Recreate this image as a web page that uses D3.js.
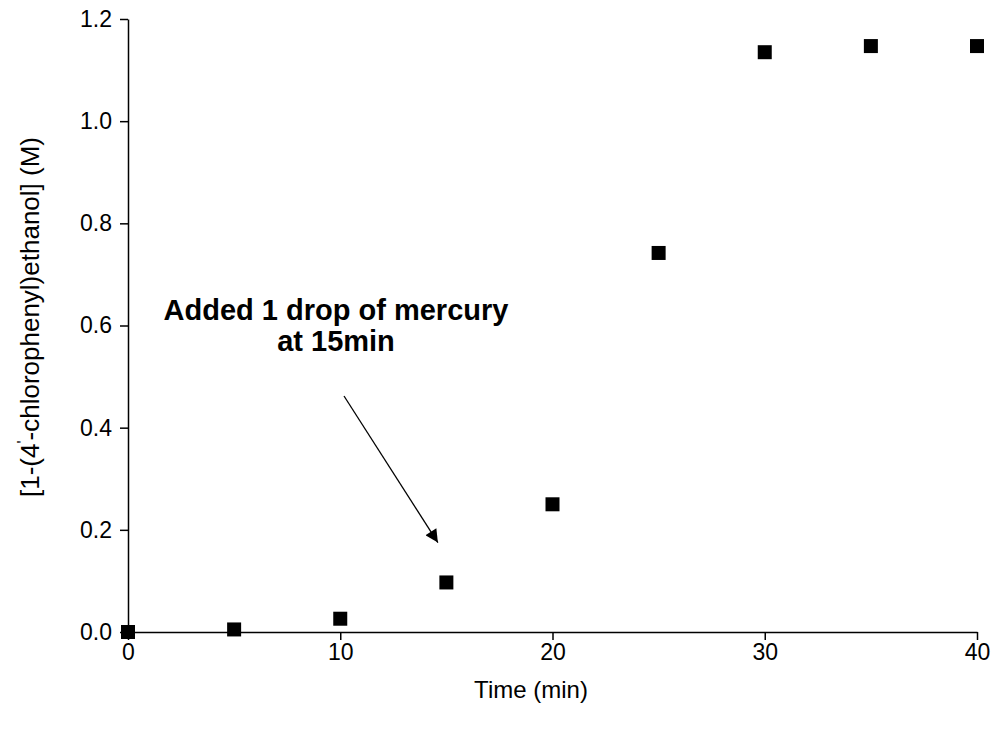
<!DOCTYPE html>
<html>
<head>
<meta charset="utf-8">
<script src="https://cdn.jsdelivr.net/npm/d3@7"></script>
<style>
  body { margin: 0; background: #fff; }
  svg { display: block; font-family: "Liberation Sans", Arial, sans-serif; }
</style>
</head>
<body>
<div id="chart"></div>
<script>
// data
var times = [0, 5, 10, 15, 20, 25, 30, 35, 40];
var conc = [0.0, 0.005, 0.026, 0.097, 0.250, 0.742, 1.135, 1.147, 1.147];
var xTicks = [0, 10, 20, 30, 40];
var yTicks = [0, 0.2, 0.4, 0.6, 0.8, 1.0, 1.2];
var noteLines = ["Added 1 drop of mercury", "at 15min"];

var width = 997,
    height = 734,
    margin = {top: 19, right: 20, bottom: 102, left: 128},
    square = 14;

var svg = d3.select("#chart").append("svg")
    .attr("width", width)
    .attr("height", height);

var x = d3.scaleLinear()
    .domain([0, 40])
    .range([margin.left, width - margin.right]);

var y = d3.scaleLinear()
    .domain([0, 1.2])
    .range([height - margin.bottom, margin.top]);

// axes
var xAxis = svg.append("g")
    .attr("transform", "translate(0," + y(0) + ")")
    .call(d3.axisBottom(x).tickValues(xTicks).tickSize(8).tickSizeOuter(0).tickPadding(4));

var yAxis = svg.append("g")
    .attr("transform", "translate(" + x(0) + ",0)")
    .call(d3.axisLeft(y).tickValues(yTicks).tickSize(8).tickSizeOuter(0).tickPadding(8).tickFormat(d3.format(".1f")));

svg.selectAll(".domain, .tick line")
    .attr("stroke", "#000")
    .attr("stroke-width", 1.5);

svg.selectAll(".tick text")
    .attr("fill", "#000")
    .style("font-size", "23px")
    .style("font-family", "'Liberation Sans', Arial, sans-serif");

// axis titles
svg.append("text")
    .attr("x", 531)
    .attr("y", 698)
    .attr("text-anchor", "middle")
    .style("font-size", "24px")
    .text("Time (min)");

var yTitle = svg.append("text")
    .attr("transform", "translate(39,317) rotate(-90)")
    .attr("text-anchor", "middle")
    .style("font-size", "26px");
yTitle.append("tspan").text("[1-(4");
yTitle.append("tspan").attr("dy", -10).style("font-size", "16px").text("'");
yTitle.append("tspan").attr("dy", 10).text("-chlorophenyl)ethanol] (M)");

// points
svg.append("g").selectAll("rect")
    .data(times)
    .enter()
    .append("rect")
    .attr("x", function(d) { return x(d) - square / 2; })
    .attr("y", function(d, i) { return y(conc[i]) - square / 2; })
    .attr("width", square)
    .attr("height", square)
    .attr("fill", "#000");

// annotation
var defs = svg.append("defs");
defs.append("marker")
    .attr("id", "arrow")
    .attr("viewBox", "0 -5 10 10")
    .attr("refX", 10)
    .attr("refY", 0)
    .attr("markerWidth", 16)
    .attr("markerHeight", 13)
    .attr("markerUnits", "userSpaceOnUse")
    .attr("orient", "auto")
    .append("path")
    .attr("d", "M0,-5L10,0L0,5Z")
    .attr("fill", "#000");

svg.append("line")
    .attr("x1", 344)
    .attr("y1", 396)
    .attr("x2", x(14.6))
    .attr("y2", y(0.175))
    .attr("stroke", "#000")
    .attr("stroke-width", 1.3)
    .attr("marker-end", "url(#arrow)");

svg.append("g").selectAll("text")
    .data(noteLines)
    .enter()
    .append("text")
    .attr("x", 336)
    .attr("y", function(d, i) { return 320 + i * 31; })
    .attr("text-anchor", "middle")
    .style("font-size", "29px")
    .style("font-weight", "bold")
    .text(function(d) { return d; });
</script>
</body>
</html>
